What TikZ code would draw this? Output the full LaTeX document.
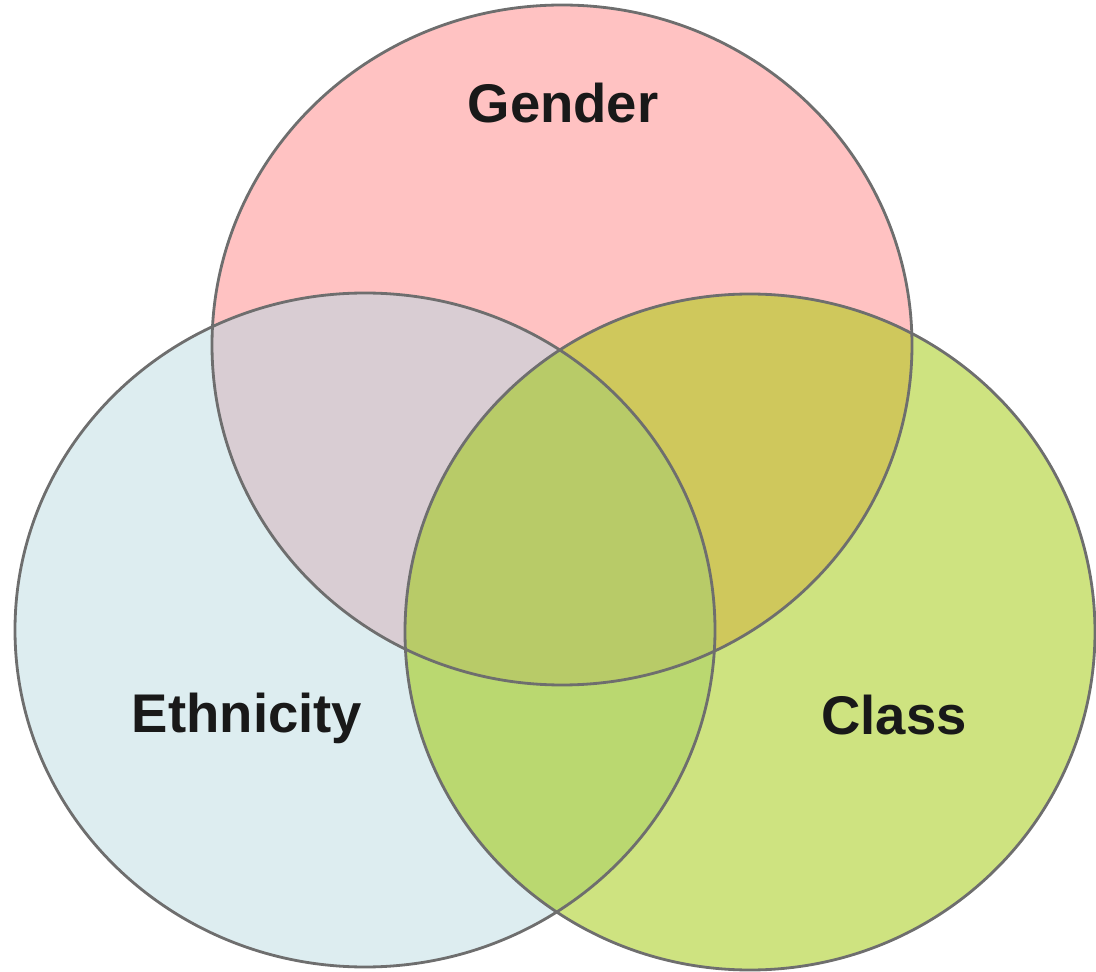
\documentclass[tikz,border=0pt]{standalone}
\usepackage{fontspec}
\setmainfont{Liberation Sans}
\usepackage{tikz}
\usetikzlibrary{positioning}

\definecolor{genderfill}{HTML}{FFC2C2}
\definecolor{ethnicfill}{HTML}{DDEDF0}
\definecolor{classfill}{HTML}{CEE380}
\definecolor{gefill}{HTML}{D9CDD3}
\definecolor{gcfill}{HTML}{CFC85C}
\definecolor{ecfill}{HTML}{BAD870}
\definecolor{allfill}{HTML}{B8CB68}
\definecolor{rimgray}{HTML}{6E6E6E}

\begin{document}
\begin{tikzpicture}[
        gsize/.style={x radius=3.50, y radius=3.40},
        esize/.style={x radius=3.50, y radius=3.37},
        csize/.style={x radius=3.45, y radius=3.38},
        rim/.style={draw=rimgray, line width=0.8pt},
        setname/.style={font=\fontsize{15.5}{18}\selectfont\bfseries, anchor=base, inner sep=0pt, text=black!90}
    ]
        \useasboundingbox (0,0) rectangle (10.96,9.72);
        \coordinate (gender) at (5.62,6.27);
        \coordinate (ethnic) at (3.65,3.42);
        \coordinate (class) at (7.50,3.40);

        % single sets
        \fill[genderfill] (gender) ellipse [gsize];
        \fill[ethnicfill] (ethnic) ellipse [esize];
        \fill[classfill] (class) ellipse [csize];

        % pairwise overlaps
        \begin{scope}
            \clip (gender) ellipse [gsize];
            \fill[gefill] (ethnic) ellipse [esize];
            \fill[gcfill] (class) ellipse [csize];
        \end{scope}
        \begin{scope}
            \clip (ethnic) ellipse [esize];
            \fill[ecfill] (class) ellipse [csize];
        \end{scope}

        % all three
        \begin{scope}
            \clip (gender) ellipse [gsize];
            \clip (ethnic) ellipse [esize];
            \fill[allfill] (class) ellipse [csize];
        \end{scope}

        \draw[rim] (gender) ellipse [gsize];
        \draw[rim] (ethnic) ellipse [esize];
        \draw[rim] (class) ellipse [csize];

        \node[setname] (gtext) at (5.63,8.49) {Gender};
        \node[setname] (etext) at (2.47,2.40) {Ethnicity};
        \node[setname] (ctext) at (8.94,2.37) {Class};
    \end{tikzpicture}
\end{document}
